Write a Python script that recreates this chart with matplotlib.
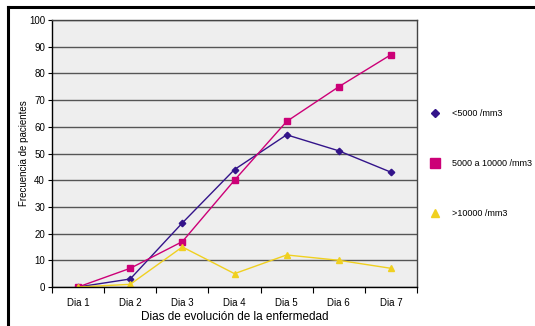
import matplotlib.pyplot as plt
from matplotlib.lines import Line2D

plt.rcParams['font.family'] = ['Liberation Sans', 'DejaVu Sans']

# data
dias = ['Dia 1', 'Dia 2', 'Dia 3', 'Dia 4', 'Dia 5', 'Dia 6', 'Dia 7']
menor_5000 = [0, 3, 24, 44, 57, 51, 43]
entre_5000_10000 = [0, 7, 17, 40, 62, 75, 87]
mayor_10000 = [0, 1, 15, 5, 12, 10, 7]
series_labels = ['<5000 /mm3', '5000 a 10000 /mm3', '>10000 /mm3']

fig = plt.figure(figsize=(5.35, 3.26), dpi=100)
W, H = 535, 326
ax = fig.add_axes([52 / W, 1 - 287 / H, 365 / W, 267 / H])
ax.set_facecolor('#eeeeee')

x = list(range(len(dias)))
ax.plot(x, menor_5000, color='#33148a', marker='D', ms=3.3, lw=1.0)
ax.plot(x, entre_5000_10000, color='#cc0077', marker='s', ms=4.5, lw=1.0)
ax.plot(x, mayor_10000, color='#f0d020', marker='^', ms=4.5, lw=1.0)

ax.set_xlim(-0.5, len(dias) - 0.5)
ax.set_ylim(0, 100)
ax.set_yticks(range(0, 101, 10))
ax.set_xticks(x)
ax.set_xticklabels(dias)
ax.set_xticks([i - 0.5 for i in range(len(dias) + 1)], minor=True)
ax.tick_params(axis='x', which='major', length=0, labelsize=7, pad=8)
ax.tick_params(axis='x', which='minor', length=4, width=0.8, direction='out')
ax.tick_params(axis='y', length=3, width=0.8, labelsize=7, pad=2)
ax.yaxis.grid(True, color='#555555', lw=1)
ax.set_axisbelow(True)
for s in ['left', 'bottom']:
    ax.spines[s].set_color('black')
    ax.spines[s].set_linewidth(1)
for s in ['top', 'right']:
    ax.spines[s].set_color('#444444')
    ax.spines[s].set_linewidth(1)

ax.set_xlabel('Dias de evolución de la enfermedad', fontsize=8.5, labelpad=2)
ax.set_ylabel('Frecuencia de pacientes', fontsize=7, labelpad=0)

# legend entries placed on the right
markers = [('D', '#33148a', 4.5), ('s', '#cc0077', 6.5), ('^', '#f0d020', 6)]
ys = [113, 163, 213]
for (m, c, sz), yy, lab in zip(markers, ys, series_labels):
    fig.add_artist(Line2D([435 / W], [1 - yy / H], marker=m, color=c, ms=sz, ls=''))
    fig.text(452 / W, 1 - yy / H, lab, fontsize=6.5, va='center', ha='left')

# outer frame (top and left visible)
fig.add_artist(Line2D([8 / W, 1], [1 - 7 / H, 1 - 7 / H], color='black', lw=2.2))
fig.add_artist(Line2D([8 / W, 8 / W], [0, 1 - 7 / H], color='black', lw=2.2))

fig.savefig('out.png', dpi=100)
